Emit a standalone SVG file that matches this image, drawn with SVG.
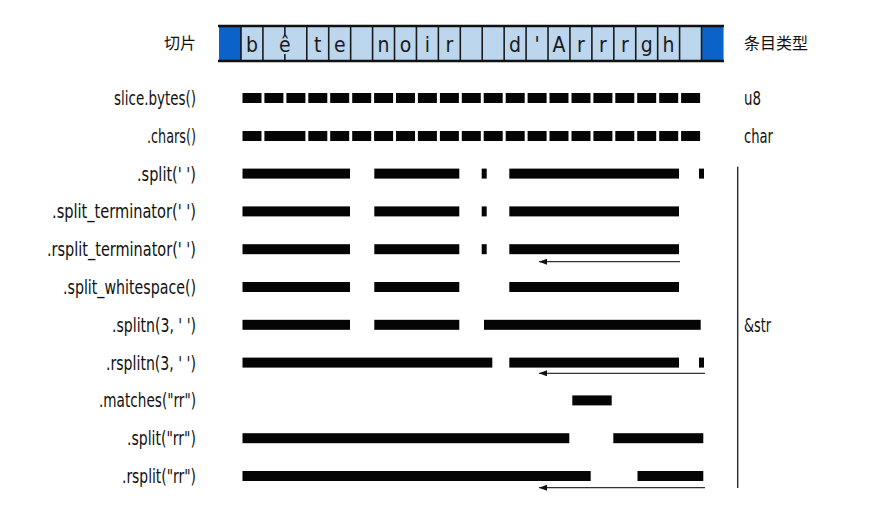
<svg xmlns="http://www.w3.org/2000/svg" width="883" height="516" viewBox="0 0 883 516">
<style>
.lbl{font-family:"Liberation Sans Narrow","DejaVu Sans Condensed","Liberation Sans",sans-serif;font-size:19.5px;fill:#111;text-anchor:end}
.rl{font-family:"Liberation Sans Narrow","DejaVu Sans Condensed","Liberation Sans",sans-serif;font-size:19.5px;fill:#111}
.cjk{font-family:"Noto Sans CJK SC","Noto Sans CJK JP",sans-serif;font-size:16px;fill:#111}
.ch{font-family:"Liberation Sans Narrow","DejaVu Sans Condensed","Liberation Sans",sans-serif;font-size:21px;fill:#1a1a1a;text-anchor:middle}
.bar{fill:#050505}
.div{stroke:#1a1a1a;stroke-width:1.6}
.edge{stroke:#111;stroke-width:2.6}
.arr{stroke:#333;stroke-width:1.3;fill:none;marker-end:url(#ah)}
</style>
<defs>
<marker id="ah" markerUnits="userSpaceOnUse" markerWidth="9" markerHeight="7" refX="8" refY="3" orient="auto"><path d="M0,0 L8,3 L0,6 z" fill="#111"/></marker>
</defs>
<rect width="883" height="516" fill="#fff"/>

<g id="string-bar">
<rect x="219" y="26" width="504.5" height="35" fill="#bcd6ee"/>
<rect x="219" y="26" width="22" height="35" fill="#0b62c8"/>
<rect x="701.5" y="26" width="22" height="35" fill="#0b62c8"/>
<g class="div">
<line x1="241" y1="26" x2="241" y2="61"/><line x1="262.93" y1="26" x2="262.93" y2="61"/>
<line x1="284.86" y1="26" x2="284.86" y2="35"/><line x1="284.86" y1="54" x2="284.86" y2="61"/>
<line x1="306.79" y1="26" x2="306.79" y2="61"/><line x1="328.72" y1="26" x2="328.72" y2="61"/>
<line x1="350.65" y1="26" x2="350.65" y2="61"/><line x1="372.58" y1="26" x2="372.58" y2="61"/>
<line x1="394.51" y1="26" x2="394.51" y2="61"/><line x1="416.44" y1="26" x2="416.44" y2="61"/>
<line x1="438.37" y1="26" x2="438.37" y2="61"/><line x1="460.3" y1="26" x2="460.3" y2="61"/>
<line x1="482.23" y1="26" x2="482.23" y2="61"/><line x1="504.16" y1="26" x2="504.16" y2="61"/>
<line x1="526.09" y1="26" x2="526.09" y2="61"/><line x1="548.02" y1="26" x2="548.02" y2="61"/>
<line x1="569.95" y1="26" x2="569.95" y2="61"/><line x1="591.88" y1="26" x2="591.88" y2="61"/>
<line x1="613.81" y1="26" x2="613.81" y2="61"/><line x1="635.74" y1="26" x2="635.74" y2="61"/>
<line x1="657.67" y1="26" x2="657.67" y2="61"/><line x1="679.6" y1="26" x2="679.6" y2="61"/>
<line x1="701.53" y1="26" x2="701.53" y2="61"/>
</g>
<line class="edge" x1="218" y1="26" x2="724" y2="26"/>
<line class="edge" x1="218" y1="61" x2="724" y2="61"/>
<g>
<text class="ch" x="252" y="52">b</text>
<text class="ch" x="284.9" y="52">ê</text>
<text class="ch" x="317.8" y="52">t</text>
<text class="ch" x="339.7" y="52">e</text>
<text class="ch" x="383.5" y="52">n</text>
<text class="ch" x="405.5" y="52">o</text>
<text class="ch" x="427.4" y="52">i</text>
<text class="ch" x="449.3" y="52">r</text>
<text class="ch" x="515.1" y="52">d</text>
<text class="ch" x="537" y="52">'</text>
<text class="ch" x="559" y="52">A</text>
<text class="ch" x="580.9" y="52">r</text>
<text class="ch" x="602.8" y="52">r</text>
<text class="ch" x="624.8" y="52">r</text>
<text class="ch" x="646.7" y="52">g</text>
<text class="ch" x="668.6" y="52">h</text>
</g>
</g>

<g id="labels-left">
<text class="cjk" x="196" y="49" text-anchor="end">切片</text>
<text class="lbl" x="196" y="105" textLength="82" lengthAdjust="spacingAndGlyphs">slice.bytes()</text>
<text class="lbl" x="196" y="142.8" textLength="49" lengthAdjust="spacingAndGlyphs">.chars()</text>
<text class="lbl" x="196" y="180.6" textLength="59" lengthAdjust="spacingAndGlyphs">.split(' ')</text>
<text class="lbl" x="196" y="218.4" textLength="144" lengthAdjust="spacingAndGlyphs">.split_terminator(' ')</text>
<text class="lbl" x="196" y="256.2" textLength="149" lengthAdjust="spacingAndGlyphs">.rsplit_terminator(' ')</text>
<text class="lbl" x="196" y="294" textLength="133" lengthAdjust="spacingAndGlyphs">.split_whitespace()</text>
<text class="lbl" x="196" y="331.8" textLength="84" lengthAdjust="spacingAndGlyphs">.splitn(3, ' ')</text>
<text class="lbl" x="196" y="369.6" textLength="90" lengthAdjust="spacingAndGlyphs">.rsplitn(3, ' ')</text>
<text class="lbl" x="196" y="407.4" textLength="97" lengthAdjust="spacingAndGlyphs">.matches("rr")</text>
<text class="lbl" x="196" y="445.2" textLength="69" lengthAdjust="spacingAndGlyphs">.split("rr")</text>
<text class="lbl" x="196" y="483" textLength="74" lengthAdjust="spacingAndGlyphs">.rsplit("rr")</text>
</g>

<g id="labels-right">
<text class="cjk" x="744" y="49">条目类型</text>
<text class="rl" x="744" y="105" textLength="17" lengthAdjust="spacingAndGlyphs">u8</text>
<text class="rl" x="744" y="142.8" textLength="29" lengthAdjust="spacingAndGlyphs">char</text>
<text class="rl" x="744" y="331.8" textLength="27" lengthAdjust="spacingAndGlyphs">&amp;str</text>
</g>

<g id="row-bytes" class="bar">
<rect x="242.5" y="93" width="19" height="10"/><rect x="264.4" y="93" width="19" height="10"/><rect x="286.4" y="93" width="19" height="10"/><rect x="308.3" y="93" width="19" height="10"/><rect x="330.2" y="93" width="19" height="10"/><rect x="352.2" y="93" width="19" height="10"/><rect x="374.1" y="93" width="19" height="10"/><rect x="396" y="93" width="19" height="10"/><rect x="417.9" y="93" width="19" height="10"/><rect x="439.9" y="93" width="19" height="10"/><rect x="461.8" y="93" width="19" height="10"/><rect x="483.7" y="93" width="19" height="10"/><rect x="505.7" y="93" width="19" height="10"/><rect x="527.6" y="93" width="19" height="10"/><rect x="549.5" y="93" width="19" height="10"/><rect x="571.5" y="93" width="19" height="10"/><rect x="593.4" y="93" width="19" height="10"/><rect x="615.3" y="93" width="19" height="10"/><rect x="637.2" y="93" width="19" height="10"/><rect x="659.2" y="93" width="19" height="10"/><rect x="681.1" y="93" width="19" height="10"/>
</g>
<g id="row-chars" class="bar">
<rect x="242.5" y="131" width="19" height="10"/><rect x="264.4" y="131" width="41" height="10"/><rect x="308.3" y="131" width="19" height="10"/><rect x="330.2" y="131" width="19" height="10"/><rect x="352.2" y="131" width="19" height="10"/><rect x="374.1" y="131" width="19" height="10"/><rect x="396" y="131" width="19" height="10"/><rect x="417.9" y="131" width="19" height="10"/><rect x="439.9" y="131" width="19" height="10"/><rect x="461.8" y="131" width="19" height="10"/><rect x="483.7" y="131" width="19" height="10"/><rect x="505.7" y="131" width="19" height="10"/><rect x="527.6" y="131" width="19" height="10"/><rect x="549.5" y="131" width="19" height="10"/><rect x="571.5" y="131" width="19" height="10"/><rect x="593.4" y="131" width="19" height="10"/><rect x="615.3" y="131" width="19" height="10"/><rect x="637.2" y="131" width="19" height="10"/><rect x="659.2" y="131" width="19" height="10"/><rect x="681.1" y="131" width="19" height="10"/>
</g>
<g id="row-split" class="bar">
<rect x="242.5" y="168.6" width="107.5" height="10"/><rect x="374.3" y="168.6" width="85" height="10"/><rect x="481.7" y="168.6" width="5" height="10"/><rect x="509.3" y="168.6" width="169.7" height="10"/><rect x="699" y="168.6" width="5" height="10"/>
</g>
<g id="row-split-terminator" class="bar">
<rect x="242.5" y="206.4" width="107.5" height="10"/><rect x="374.3" y="206.4" width="85" height="10"/><rect x="481.7" y="206.4" width="5" height="10"/><rect x="509.3" y="206.4" width="169.7" height="10"/>
</g>
<g id="row-rsplit-terminator" class="bar">
<rect x="242.5" y="244.2" width="107.5" height="10"/><rect x="374.3" y="244.2" width="85" height="10"/><rect x="481.7" y="244.2" width="5" height="10"/><rect x="509.3" y="244.2" width="169.7" height="10"/>
</g>
<g id="row-split-whitespace" class="bar">
<rect x="242.5" y="282" width="107.5" height="10"/><rect x="374.3" y="282" width="85" height="10"/><rect x="509.3" y="282" width="169.7" height="10"/>
</g>
<g id="row-splitn" class="bar">
<rect x="242.5" y="319.8" width="107.5" height="10"/><rect x="374.3" y="319.8" width="85" height="10"/><rect x="484" y="319.8" width="216.7" height="10"/>
</g>
<g id="row-rsplitn" class="bar">
<rect x="242.5" y="357.6" width="249.8" height="10"/><rect x="509.3" y="357.6" width="169.7" height="10"/><rect x="699" y="357.6" width="5" height="10"/>
</g>
<g id="row-matches" class="bar">
<rect x="572.3" y="395.4" width="39.4" height="10"/>
</g>
<g id="row-split-rr" class="bar">
<rect x="242.5" y="433.2" width="326.8" height="10"/><rect x="613.3" y="433.2" width="90" height="10"/>
</g>
<g id="row-rsplit-rr" class="bar">
<rect x="242.5" y="471" width="348.2" height="10"/><rect x="637.5" y="471" width="65.8" height="10"/>
</g>

<g id="connectors">
<line class="arr" x1="680" y1="261.7" x2="539" y2="261.7"/>
<line class="arr" x1="705" y1="373.3" x2="539" y2="373.3"/>
<line class="arr" x1="705" y1="487.7" x2="539" y2="487.7"/>
<line x1="737.7" y1="166.7" x2="737.7" y2="488" stroke="#333" stroke-width="1.5"/>
</g>
</svg>
